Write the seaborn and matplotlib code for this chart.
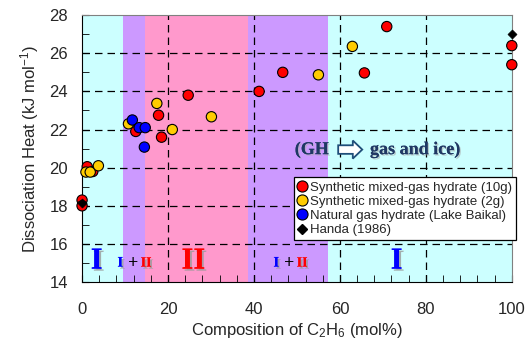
import pandas as pd
import matplotlib.pyplot as plt
import matplotlib.patheffects as pe
from matplotlib.patches import FancyArrow
from matplotlib.lines import Line2D
import seaborn as sns

# Data
c2h6_10g = [0, 0, 1.2, 2.5, 12.5, 17.8, 18.5, 24.7, 41.2, 46.7, 65.7, 70.9, 100, 100]
heat_10g = [18.3, 18.0, 20.05, 19.8, 21.9, 22.75, 21.6, 23.8, 24.0, 25.0, 24.97, 27.4, 26.4, 25.4]

c2h6_2g = [0.9, 1.9, 3.8, 10.8, 17.4, 21.0, 30.1, 55.0, 62.9]
heat_2g = [19.77, 19.77, 20.1, 22.3, 23.37, 22.0, 22.67, 24.87, 26.36]

c2h6_baikal = [11.7, 13.3, 14.7, 14.5]
heat_baikal = [22.5, 22.1, 22.1, 21.08]

c2h6_handa = [0, 100]
heat_handa = [18.15, 27.0]

labels = ['Synthetic mixed-gas hydrate (10g)', 'Synthetic mixed-gas hydrate (2g)',
          'Natural gas hydrate (Lake Baikal)', 'Handa (1986)']
colors = ['#FF0000', '#FFCC00', '#0000FF', '#000000']

# structure regions (mol% C2H6)
region_edges = [0, 9.5, 14.7, 38.5, 57.2, 100]
region_colors = ['#CCFFFF', '#CC99FF', '#FF99CC', '#CC99FF', '#CCFFFF']

df = pd.concat([
    pd.DataFrame({'x': c2h6_10g, 'y': heat_10g, 'set': labels[0]}),
    pd.DataFrame({'x': c2h6_2g, 'y': heat_2g, 'set': labels[1]}),
    pd.DataFrame({'x': c2h6_baikal, 'y': heat_baikal, 'set': labels[2]}),
])
df_h = pd.DataFrame({'x': c2h6_handa, 'y': heat_handa, 'set': labels[3]})

sns.set_style('ticks')
plt.rcParams['font.family'] = ['Liberation Sans', 'DejaVu Sans']
plt.rcParams['mathtext.fontset'] = 'custom'
plt.rcParams['mathtext.rm'] = 'Liberation Sans'
plt.rcParams['mathtext.it'] = 'Liberation Sans:italic'

fig = plt.figure(figsize=(5.26, 3.44), dpi=100)
ax = fig.add_axes([0.156, 0.180, 0.817, 0.776])

for i in range(len(region_colors)):
    ax.axvspan(region_edges[i], region_edges[i + 1], color=region_colors[i], lw=0, zorder=0)

for gx in [20, 40, 60, 80]:
    ax.axvline(gx, color='black', ls=(0, (6, 4)), lw=0.9, zorder=1)
for gy in [16, 18, 20, 22, 24, 26]:
    ax.axhline(gy, color='black', ls=(0, (6, 4)), lw=0.9, zorder=1)

sns.scatterplot(data=df, x='x', y='y', hue='set', palette=dict(zip(labels[:3], colors[:3])),
                s=55, edgecolor='black', linewidth=0.8, ax=ax, legend=False, zorder=4, clip_on=False)
sns.scatterplot(data=df_h, x='x', y='y', color='black', marker='D', s=22,
                edgecolor='black', ax=ax, legend=False, zorder=5, clip_on=False)

ax.set_xlim(0, 100)
ax.set_ylim(14, 28)
ax.set_xticks([0, 20, 40, 60, 80, 100])
ax.set_yticks([14, 16, 18, 20, 22, 24, 26, 28])
ax.set_xticks(range(0, 101, 4), minor=True)
ax.set_yticks(range(14, 29), minor=True)
ax.tick_params(axis='both', which='both', direction='in', labelsize=12, color='black')
ax.tick_params(axis='x', which='both', length=5, pad=14)
ax.tick_params(axis='y', which='both', length=5, pad=10)
for s in ['top', 'right']:
    ax.spines[s].set_color('#808080')
for s in ['left', 'bottom']:
    ax.spines[s].set_color('black')

ax.set_xlabel('Composition of C$_2$H$_6$ (mol%)', fontsize=12, labelpad=3)
ax.set_ylabel('Dissociation Heat (kJ mol$^{-1}$)', fontsize=12, labelpad=6)

# roman numeral region labels
shadow = [pe.withSimplePatchShadow(offset=(1.5, -1.5), shadow_rgbFace='#999999', alpha=0.8), pe.Normal()]
rom = dict(family=['Liberation Serif', 'DejaVu Serif'], fontweight='bold', ha='center', va='center', zorder=6)
ax.text(3.4, 15.1, 'I', color='#0000FF', fontsize=22, path_effects=shadow, **rom)
ax.text(25.9, 15.1, 'II', color='#FF0000', fontsize=22, path_effects=shadow, **rom)
ax.text(73.2, 15.1, 'I', color='#0000FF', fontsize=22, path_effects=shadow, **rom)
for x0 in [8.9, 45.2]:
    ax.text(x0, 15.0, 'I', color='#0000FF', fontsize=10.5, path_effects=shadow, **rom)
    ax.text(x0 + 3.0, 15.0, '+', color='black', fontsize=13, **rom)
    ax.text(x0 + 6.0, 15.0, 'II', color='#FF0000', fontsize=10, path_effects=shadow, **rom)

# (GH => gas and ice)
txt = dict(family=['Liberation Serif', 'DejaVu Serif'], fontweight='bold', color='#1F3864',
           fontsize=13, va='center', zorder=6,
           path_effects=[pe.withSimplePatchShadow(offset=(1, -1), shadow_rgbFace='#AAAAAA', alpha=0.6), pe.Normal()])
ax.text(49.5, 20.95, '(GH', ha='left', **txt)
ax.add_patch(FancyArrow(59.6, 20.95, 5.6, 0, width=0.45, head_width=0.95, head_length=2.2,
                        length_includes_head=True, facecolor='white', edgecolor='#1F4E79', lw=1.3, zorder=6))
ax.text(67.0, 20.95, 'gas and ice)', ha='left', **txt)

handles = [Line2D([], [], ls='', marker='o', markersize=8, markerfacecolor=c, markeredgecolor='black',
                  markeredgewidth=0.8) for c in colors[:3]]
handles.append(Line2D([], [], ls='', marker='D', markersize=5, color='black'))
leg = ax.legend(handles, labels, loc='upper left', bbox_to_anchor=(0.493, 0.392), fontsize=9.5,
                frameon=True, fancybox=False, edgecolor='black', framealpha=1, borderpad=0.3,
                handlelength=0.7, handletextpad=0.25, labelspacing=0.15, borderaxespad=0)
leg.get_frame().set_linewidth(0.9)
leg.set_zorder(7)

plt.savefig('out.png', dpi=100)
